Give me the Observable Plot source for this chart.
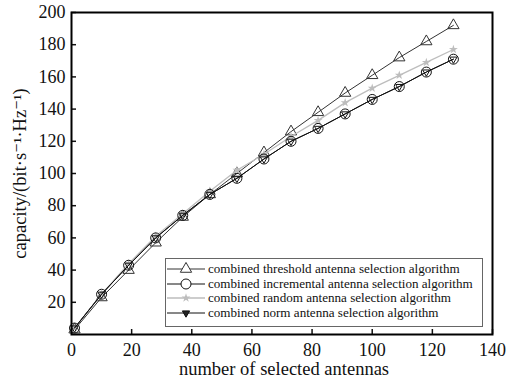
<!DOCTYPE html>
<html>
<head>
<meta charset="utf-8">
<script src="https://cdn.jsdelivr.net/npm/d3@7"></script>
<script src="https://cdn.jsdelivr.net/npm/@observablehq/plot@0.6"></script>
<style>
  html, body { margin: 0; padding: 0; background: #fff; }
  #wrap { position: relative; width: 520px; height: 379px; font-family: "Liberation Serif", "Times New Roman", Times, "DejaVu Serif", serif; }
  #legend { position: absolute; left: 165px; top: 258px; width: 316px; height: 64px; border: 1px solid #666; background: #fff; padding-top: 3px; box-sizing: content-box; }
  .row { display: flex; align-items: center; height: 14.5px; font-size: 13.1px; color: #111; white-space: nowrap; }
  .row svg { flex: none; margin-right: 2px; }
</style>
</head>
<body>
<div id="wrap"></div>
<script>
// ---- data ----
const antennas = [1, 10, 19, 28, 37, 46, 55, 64, 73, 82, 91, 100, 109, 118, 127];
const thresholdCap   = [3, 23, 40, 57, 73, 87, 100, 113, 126, 138, 150, 161, 172, 182, 192];
const incrementalCap = [4, 25, 43, 60, 74, 87, 97, 109, 120, 128, 137, 146, 154, 163, 171];
const randomCap      = [4, 25, 44, 61, 75, 89, 102, 112, 123, 133, 144, 153, 161, 169, 177];
const normCap        = [4, 25, 43, 60, 74, 87, 97, 109, 120, 128, 137, 146, 154, 163, 171];
const seriesNames = [
  "combined threshold antenna selection algorithm",
  "combined incremental antenna selection algorithm",
  "combined random antenna selection algorithm",
  "combined norm antenna selection algorithm"
];
const xTicks = [0, 20, 40, 60, 80, 100, 120, 140];
const yTicks = [20, 40, 60, 80, 100, 120, 140, 160, 180, 200];

const FONT = "'Liberation Serif', 'Times New Roman', Times, 'DejaVu Serif', serif";
const toRows = (vals) => antennas.map((x, i) => ({x, y: vals[i]}));
const thr = toRows(thresholdCap), inc = toRows(incrementalCap), rnd = toRows(randomCap), nrm = toRows(normCap);

const styles = [
  {stroke: "#333", symbol: "triangle", fill: "#fff", r: 4.2, rotate: 0},
  {stroke: "#111", symbol: "circle", fill: "#fff", r: 5, rotate: 0},
  {stroke: "#bdbdbd", symbol: "star", fill: "#bdbdbd", r: 2.8, rotate: 0},
  {stroke: "#111", symbol: "triangle", fill: "#222", r: 2.7, rotate: 180}
];

const chart = Plot.plot({
  width: 520,
  height: 379,
  marginLeft: 71,
  marginRight: 28,
  marginTop: 12,
  marginBottom: 45,
  style: {fontFamily: FONT, fontSize: "18px", color: "#111", background: "#fff"},
  x: {domain: [0, 140]},
  y: {domain: [0, 200]},
  marks: [
    Plot.axisX({ticks: xTicks, tickSize: -5, tickPadding: 14, label: null, stroke: "#111", strokeWidth: 1.5, fontFamily: FONT, fontSize: 18}),
    Plot.axisY({ticks: yTicks, tickSize: -5, tickPadding: 11, label: null, stroke: "#111", strokeWidth: 1.5, fontFamily: FONT, fontSize: 18}),
    Plot.line(thr, {x: "x", y: "y", stroke: styles[0].stroke, strokeWidth: 1}),
    Plot.dot(thr, {x: "x", y: "y", symbol: "triangle", r: styles[0].r, stroke: styles[0].stroke, fill: "none", strokeWidth: 1}),
    Plot.line(rnd, {x: "x", y: "y", stroke: styles[2].stroke, strokeWidth: 1.3}),
    Plot.dot(rnd, {x: "x", y: "y", symbol: "star", r: styles[2].r, fill: styles[2].fill}),
    Plot.line(inc, {x: "x", y: "y", stroke: styles[1].stroke, strokeWidth: 1}),
    Plot.dot(inc, {x: "x", y: "y", symbol: "circle", r: styles[1].r, stroke: styles[1].stroke, fill: "none", strokeWidth: 1}),
    Plot.line(nrm, {x: "x", y: "y", stroke: styles[3].stroke, strokeWidth: 1}),
    Plot.dot(nrm, {x: "x", y: "y", symbol: "triangle", rotate: 180, r: styles[3].r, stroke: styles[3].stroke, fill: "none", strokeWidth: 1}),
    Plot.frame({stroke: "#000", strokeWidth: 2}),
    Plot.text(["capacity/(bit·s⁻¹·Hz⁻¹)"], {frameAnchor: "left", dx: -51, rotate: -90, text: d => d, fontSize: 18.5, fontFamily: FONT, lineAnchor: "middle", textAnchor: "middle", fill: "#111"}),
    Plot.text(["number of selected antennas"], {frameAnchor: "bottom", dy: 35, dx: 2, text: d => d, fontSize: 18.5, fontFamily: FONT, lineAnchor: "middle", textAnchor: "middle", fill: "#111"})
  ]
});

const wrap = document.getElementById("wrap");
wrap.appendChild(chart);

// legend overlay
const legend = document.createElement("div");
legend.id = "legend";
const symMap = {triangle: d3.symbolTriangle, circle: d3.symbolCircle, star: d3.symbolStar};
seriesNames.forEach((name, i) => {
  const s = styles[i];
  const row = document.createElement("div");
  row.className = "row";
  const svg = d3.create("svg").attr("width", 40).attr("height", 14);
  svg.append("line").attr("x1", 1).attr("x2", 39).attr("y1", 7).attr("y2", 7)
    .attr("stroke", s.stroke).attr("stroke-width", i === 2 ? 1.3 : 1);
  const size = Math.PI * s.r * s.r;
  svg.append("path")
    .attr("d", d3.symbol(symMap[s.symbol], size)())
    .attr("transform", `translate(20,7) rotate(${s.rotate})`)
    .attr("fill", s.fill)
    .attr("stroke", i === 2 ? "none" : s.stroke);
  row.appendChild(svg.node());
  const span = document.createElement("span");
  span.textContent = name;
  row.appendChild(span);
  legend.appendChild(row);
});
wrap.appendChild(legend);
</script>
</body>
</html>
